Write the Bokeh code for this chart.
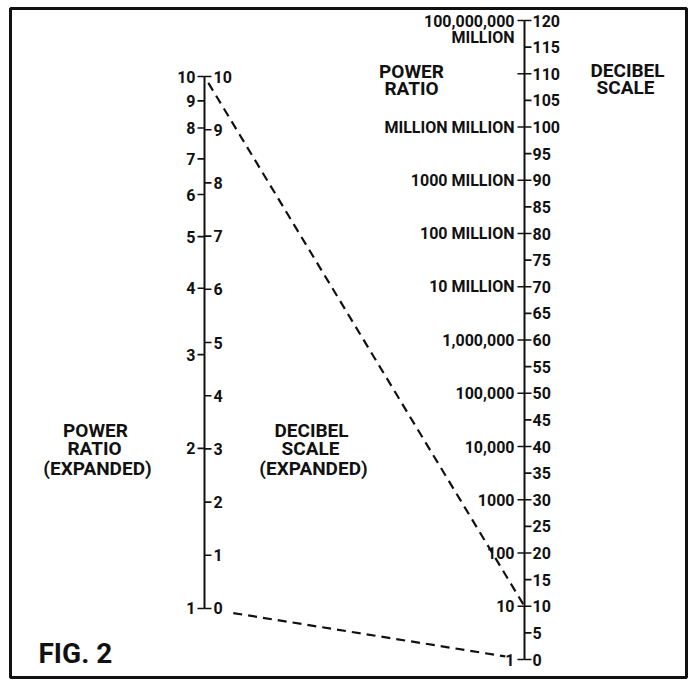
import math
from bokeh.plotting import figure
from bokeh.models import Range1d, ColumnDataSource
from bokeh.core.properties import value
from bokeh.embed import file_html
from bokeh.resources import INLINE

# ---------------- data ----------------
left_power = [1, 2, 3, 4, 5, 6, 7, 8, 9, 10]
left_power_labels = ["1", "2", "3", "4", "5", "6", "7", "8", "9", "10"]
left_db = [0, 1, 2, 3, 4, 5, 6, 7, 8, 9, 10]
left_db_labels = ["0", "1", "2", "3", "4", "5", "6", "7", "8", "9", "10"]
right_db = [0, 5, 10, 15, 20, 25, 30, 35, 40, 45, 50, 55, 60,
            65, 70, 75, 80, 85, 90, 95, 100, 105, 110, 115, 120]
right_db_labels = ["0", "5", "10", "15", "20", "25", "30", "35", "40", "45", "50", "55", "60",
                   "65", "70", "75", "80", "85", "90", "95", "100", "105", "110", "115", "120"]
right_power_db = [0, 10, 20, 30, 40, 50, 60, 70, 80, 90, 100, 110, 120]
right_power_labels = ["1", "10", "100", "1000", "10,000", "100,000", "1,000,000",
                      "10 MILLION", "100 MILLION", "1000 MILLION", "MILLION MILLION",
                      "", "100,000,000\nMILLION"]
# example lines: left power ratio -> right decibel value
example_from_power = [10, 1]
example_to_db = [10, 0]

# ---------------- layout ----------------
W, H = 689, 680
FL, FT, FR, FB = 10, 8, 686, 677   # frame edges (screen px)
XL, XR = 204, 524                  # x of the two scales (screen px)
TICK = 7
L0, L1 = 9.58, 99.9                # left scale: position (right-dB units) = L0 + L1*log10(P)
PX_PER_DB, Y0 = 5.325, 659         # right scale: screen row of 0 dB and px per dB
FONT = value("Roboto")


def left_y(p):
    return L0 + L1 * math.log10(p)


def sy(y):  # screen row -> right-dB position
    return (Y0 - y) / PX_PER_DB


p = figure(width=W, height=H, output_backend="svg", toolbar_location=None,
           x_range=Range1d(FL, FR), y_range=Range1d(sy(FB), sy(FT)),
           min_border_left=FL, min_border_top=FT,
           min_border_right=W - FR, min_border_bottom=H - FB)
p.xaxis.visible = False
p.yaxis.visible = False
p.grid.visible = False
p.title.visible = False
p.background_fill_color = "white"
p.border_fill_color = "white"
p.outline_line_color = "#111111"
p.outline_line_width = 3

ink = "#111111"

# axis lines
p.segment(x0=[XL, XR], y0=[left_y(left_power[0]), right_db[0]],
          x1=[XL, XR], y1=[left_y(left_power[-1]), right_db[-1]],
          line_color=ink, line_width=2)

# left scale ticks
p.segment(x0=[XL - TICK] * len(left_power), y0=[left_y(v) for v in left_power],
          x1=[XL] * len(left_power), y1=[left_y(v) for v in left_power],
          line_color=ink, line_width=1.6)
p.segment(x0=[XL] * len(left_db), y0=[left_y(10 ** (d / 10)) for d in left_db],
          x1=[XL + TICK] * len(left_db), y1=[left_y(10 ** (d / 10)) for d in left_db],
          line_color=ink, line_width=1.6)

# right scale ticks
p.segment(x0=[XR] * len(right_db), y0=right_db,
          x1=[XR + TICK] * len(right_db), y1=right_db,
          line_color=ink, line_width=1.6)
p.segment(x0=[XR - TICK] * len(right_power_db), y0=right_power_db,
          x1=[XR] * len(right_power_db), y1=right_power_db,
          line_color=ink, line_width=1.6)

lab = dict(text_font=FONT, text_font_style="bold", text_font_size="16px",
           text_color=ink, text_baseline="middle")

# left scale labels
p.text(x=[XL - 9] * len(left_power), y=[left_y(v) for v in left_power],
       text=left_power_labels, text_align="right", **lab)
p.text(x=[XL + 9] * len(left_db), y=[left_y(10 ** (d / 10)) for d in left_db],
       text=left_db_labels, text_align="left", **lab)

# right scale labels
p.text(x=[XR + 8] * len(right_db), y=right_db, text=right_db_labels,
       text_align="left", **lab)
rx, ry, rt, roff = [], [], [], []
for d, t in zip(right_power_db, right_power_labels):
    for i, line in enumerate(t.split("\n")):
        if line:
            rx.append(XR - 10)
            ry.append(d)
            rt.append(line)
            roff.append(i * 17)
p.text(x="x", y="y", text="t", y_offset="o",
       source=ColumnDataSource(dict(x=rx, y=ry, t=rt, o=roff)),
       text_align="right", **lab)

# dashed example lines
spans = [(0.012, 1.0), (0.09, 0.94)]
for pw, db, (t0, t1) in zip(example_from_power, example_to_db, spans):
    ya, yb = left_y(pw), db
    p.segment(x0=[XL + t0 * (XR - XL)], y0=[ya + t0 * (yb - ya)],
              x1=[XL + t1 * (XR - XL)], y1=[ya + t1 * (yb - ya)],
              line_color=ink, line_width=2.2, line_dash="9 6")

# titles
ttl = dict(text_font=FONT, text_font_style="bold", text_font_size="19px",
           text_color=ink, text_baseline="middle", text_align="center")
titles = [
    ("POWER", 411, 71), ("RATIO", 411, 88),
    ("DECIBEL", 627, 70), ("SCALE", 625, 87),
    ("POWER", 95, 430), ("RATIO", 94, 448), ("(EXPANDED)", 97, 468),
    ("DECIBEL", 311, 430), ("SCALE", 310, 448), ("(EXPANDED)", 313, 468),
]
p.text(x=[t[1] for t in titles], y=[sy(t[2]) for t in titles],
       text=[t[0] for t in titles], **ttl)
p.text(x=[38], y=[sy(653)], text=["FIG. 2"], text_font=FONT, text_font_style="bold",
       text_font_size="28px", text_color=ink, text_baseline="middle", text_align="left")

open("out.html", "w").write(file_html(p, INLINE))
